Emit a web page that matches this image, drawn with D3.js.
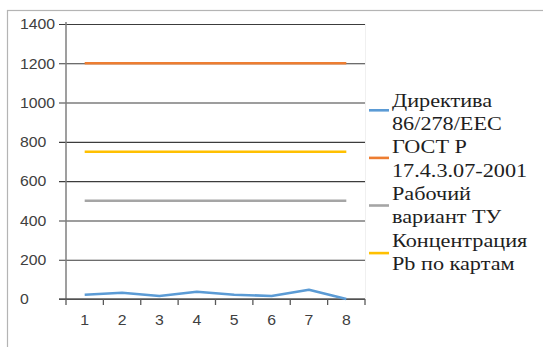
<!DOCTYPE html>
<html>
<head>
<meta charset="utf-8">
<script src="https://cdn.jsdelivr.net/npm/d3@7"></script>
<style>
  html, body { margin: 0; padding: 0; background: #fff; }
  svg { display: block; }
</style>
</head>
<body>
<svg id="chart" width="543" height="347"></svg>
<script>
// Sampling points along the x axis
const categories = ["1", "2", "3", "4", "5", "6", "7", "8"];

// Pb content per series
const directive = [22, 32, 15, 37, 22, 15, 47, 0];
const gost = [1200, 1200, 1200, 1200, 1200, 1200, 1200, 1200];
const workingTU = [500, 500, 500, 500, 500, 500, 500, 500];
const mapConcentration = [750, 750, 750, 750, 750, 750, 750, 750];

const seriesNames = [
  ["Директива", "86/278/EEC"],
  ["ГОСТ Р", "17.4.3.07-2001"],
  ["Рабочий", "вариант ТУ"],
  ["Концентрация", "Pb по картам"]
];
const seriesValues = [directive, gost, workingTU, mapConcentration];
const seriesColors = ["#5B9BD5", "#ED7D31", "#A5A5A5", "#FFC000"];

const yTicks = [0, 200, 400, 600, 800, 1000, 1200, 1400];

const SERIF = '"Liberation Serif", "Times New Roman", serif';
const SANS = '"Liberation Sans", Arial, sans-serif';

const svg = d3.select("#chart");
const stretch = 1.13;

// outer chart frame (clipped on right and bottom)
svg.append("rect")
  .attr("x", 7.5).attr("y", 10.5)
  .attr("width", 600).attr("height", 400)
  .attr("fill", "none").attr("stroke", "#b4b4b4").attr("stroke-width", 1.2);

const plot = { left: 66, right: 365, top: 24, bottom: 299 };

const x = d3.scaleBand().domain(categories).range([plot.left, plot.right]);
const y = d3.scaleLinear().domain([0, 1400]).range([plot.bottom, plot.top]);

// faint plot-area border on the right
svg.append("line")
  .attr("x1", plot.right + 0.5).attr("x2", plot.right + 0.5)
  .attr("y1", plot.top).attr("y2", plot.bottom)
  .attr("stroke", "#f0f0f0").attr("stroke-width", 1);

// horizontal gridlines with ticks on the left
const yAxis = d3.axisLeft(y).tickValues(yTicks).tickSize(-(plot.right - plot.left)).tickFormat("");
const gy = svg.append("g").attr("transform", `translate(${plot.left},0)`).call(yAxis);
gy.select(".domain").remove();
gy.selectAll(".tick line")
  .attr("x1", -7)
  .attr("stroke", "#3c3c3c").attr("stroke-width", 1.1);

// y tick labels, left aligned
svg.append("g").selectAll("text")
  .data(yTicks).join("text")
  .attr("transform", d => `translate(20,${y(d) + 5.3}) scale(${stretch},1)`)
  .style("font-family", SANS)
  .style("font-size", "14px")
  .attr("fill", "#404040")
  .text(d => d);

// vertical axis line
svg.append("line")
  .attr("x1", plot.left).attr("x2", plot.left)
  .attr("y1", plot.top - 2).attr("y2", plot.bottom + 1)
  .attr("stroke", "#7f7f7f").attr("stroke-width", 1.5);

// x axis with ticks at category boundaries
const boundaries = categories.map(c => x(c)).concat([plot.right]);
const gx = svg.append("g");
gx.append("line")
  .attr("x1", plot.left - 7).attr("x2", plot.right)
  .attr("y1", plot.bottom).attr("y2", plot.bottom)
  .attr("stroke", "#595959").attr("stroke-width", 1.3);
gx.selectAll("line.tk").data(boundaries).join("line")
  .attr("class", "tk")
  .attr("x1", d => d).attr("x2", d => d)
  .attr("y1", plot.bottom).attr("y2", plot.bottom + 6)
  .attr("stroke", "#595959").attr("stroke-width", 1.3);
gx.selectAll("text").data(categories).join("text")
  .attr("transform", d => `translate(${x(d) + x.bandwidth() / 2},325) scale(${stretch},1)`)
  .attr("text-anchor", "middle")
  .style("font-family", SANS)
  .style("font-size", "14px")
  .attr("fill", "#404040")
  .text(d => d);

// series lines
const line = d3.line()
  .x((d, i) => x(categories[i]) + x.bandwidth() / 2)
  .y(d => y(d));

svg.append("g").selectAll("path")
  .data(seriesValues).join("path")
  .attr("d", d => line(d))
  .attr("fill", "none")
  .attr("stroke", (d, i) => seriesColors[i])
  .attr("stroke-width", 2.6)
  .attr("stroke-linejoin", "round");

// legend
const legend = svg.append("g");
seriesNames.forEach((lines, i) => {
  legend.append("line")
    .attr("x1", 369).attr("x2", 389)
    .attr("y1", 110.3 + i * 47.6).attr("y2", 110.3 + i * 47.6)
    .attr("stroke", seriesColors[i]).attr("stroke-width", 2.6);
  lines.forEach((t, j) => {
    legend.append("text")
      .attr("transform", `translate(392,${106.7 + (i * 2 + j) * 23.35}) scale(1.14,1)`)
      .style("font-family", SERIF)
      .style("font-size", "19.5px")
      .attr("fill", "#1e1e1e")
      .text(t);
  });
});
</script>
</body>
</html>
